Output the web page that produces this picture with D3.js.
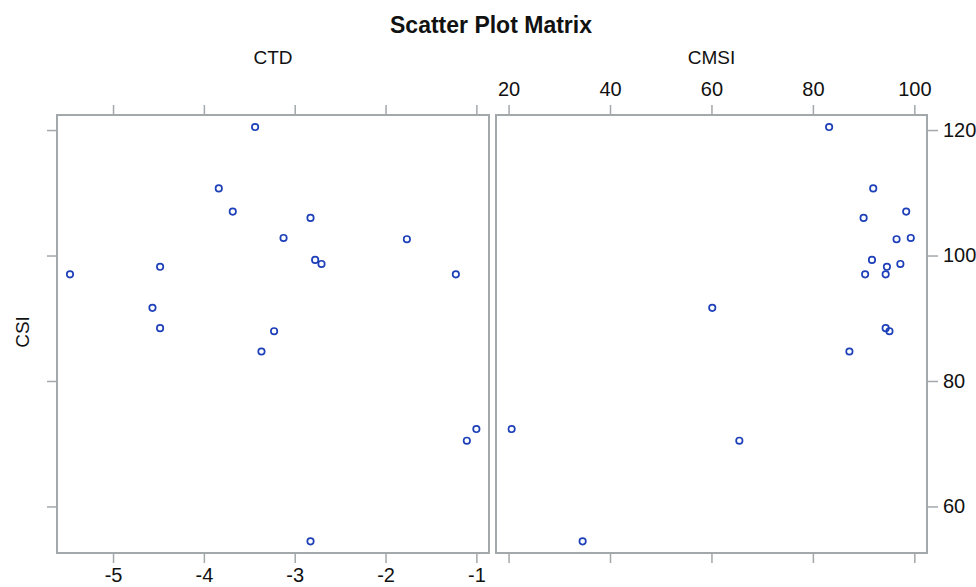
<!DOCTYPE html>
<html><head><meta charset="utf-8">
<script src="https://cdn.jsdelivr.net/npm/d3@7"></script>
<style>body{margin:0;background:#fff}text{font-family:"Liberation Sans",Arial,sans-serif}</style>
</head><body><svg id="c" width="976" height="587"></svg>
<script>
const ctd  = [-3.436,-3.836,-3.682,-2.826,-3.123,-1.765,-2.775,-2.705,-5.474,-4.482,-1.226,-4.566,-4.482,-3.227,-3.366,-1.0,-1.105,-2.826];
const cmsi = [83.2,91.9,98.4,90.0,99.3,96.5,91.65,97.25,90.3,94.6,94.35,60.16,94.35,95.1,87.2,20.6,65.5,34.6];
const csi  = [120.48,110.7,107.0,106.0,102.8,102.6,99.3,98.66,97.0,98.2,97.0,91.66,88.42,87.94,84.7,72.34,70.48,54.44];
const ctdTicks = [-5,-4,-3,-2,-1];
const cmsiTicks = [20,40,60,80,100];
const csiTicks = [60,80,100,120];
const title = "Scatter Plot Matrix";

const svg = d3.select("#c");
const gray = "#a3a8ab", blue = "#1d3fb8";
const pTop = 115, pBottom = 553;
const y = d3.scaleLinear().domain([52.58,122.4]).range([pBottom, pTop]);
const xL = d3.scaleLinear().domain([-5.617,-0.861]).range([57, 489]);
const xR = d3.scaleLinear().domain([17.52,102.5]).range([496, 927]);

svg.append("text").attr("x",491).attr("y",33).attr("text-anchor","middle")
  .attr("font-size",23).attr("font-weight","bold").attr("fill","#111").text(title);

function styleAxis(g){
  g.select(".domain").remove();
  g.selectAll(".tick line").attr("stroke",gray).attr("stroke-width",1.5);
  g.selectAll(".tick text").attr("font-size",20).attr("fill","#111")
    .attr("font-family","Liberation Sans, Arial, sans-serif");
}

function panel(x, xs, label, topLabels, bottomLabels){
  const [x0,x1] = x.range();
  svg.append("g").attr("transform",`translate(0,${pTop})`)
    .call(d3.axisTop(x).tickValues(xs).tickSize(10).tickPadding(9).tickFormat(topLabels? d3.format("d") : ""))
    .call(styleAxis);
  svg.append("g").attr("transform",`translate(0,${pBottom})`)
    .call(d3.axisBottom(x).tickValues(xs).tickSize(10).tickPadding(5).tickFormat(bottomLabels? d=>d3.format("d")(d).replace("−","-") : ""))
    .call(styleAxis);
  svg.append("rect").attr("x",x0).attr("y",pTop).attr("width",x1-x0).attr("height",pBottom-pTop)
    .attr("fill","none").attr("stroke",gray).attr("stroke-width",2);
  svg.append("text").attr("x",(x0+x1)/2).attr("y",64).attr("text-anchor","middle")
    .attr("font-size",19).attr("fill","#111").text(label);
}
panel(xL, ctdTicks, "CTD", false, true);
panel(xR, cmsiTicks, "CMSI", true, false);

svg.append("g").attr("transform",`translate(57,0)`)
  .call(d3.axisLeft(y).tickValues(csiTicks).tickSize(10).tickFormat(""))
  .call(styleAxis);
svg.append("g").attr("transform",`translate(927,0)`)
  .call(d3.axisRight(y).tickValues(csiTicks).tickSize(11).tickPadding(5))
  .call(styleAxis);

svg.append("text").attr("transform",`translate(29,${(pTop+pBottom)/2 - 2}) rotate(-90)`)
  .attr("text-anchor","middle").attr("font-size",19).attr("fill","#111").text("CSI");

const idx = d3.range(csi.length);
svg.append("g").selectAll("circle").data(idx).join("circle")
  .attr("cx",i=>xL(ctd[i])).attr("cy",i=>y(csi[i])).attr("r",3.2)
  .attr("fill","none").attr("stroke",blue).attr("stroke-width",1.7);
svg.append("g").selectAll("circle").data(idx).join("circle")
  .attr("cx",i=>xR(cmsi[i])).attr("cy",i=>y(csi[i])).attr("r",3.2)
  .attr("fill","none").attr("stroke",blue).attr("stroke-width",1.7);
</script></body></html>
